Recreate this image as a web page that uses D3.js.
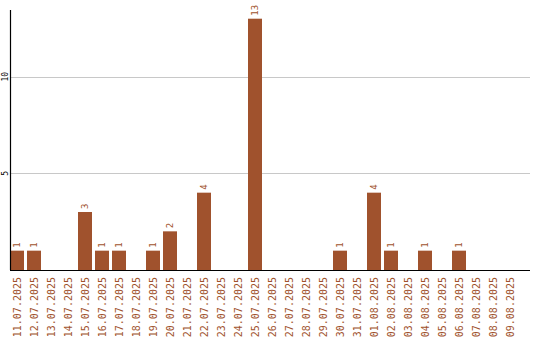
<!DOCTYPE html>
<html><head><meta charset="utf-8">
<script src="https://cdn.jsdelivr.net/npm/d3@7"></script>
<style>body{margin:0;background:#fff}svg{display:block}</style>
</head><body>
<script>
const dates = ["11.07.2025","12.07.2025","13.07.2025","14.07.2025","15.07.2025","16.07.2025","17.07.2025","18.07.2025","19.07.2025","20.07.2025","21.07.2025","22.07.2025","23.07.2025","24.07.2025","25.07.2025","26.07.2025","27.07.2025","28.07.2025","29.07.2025","30.07.2025","31.07.2025","01.08.2025","02.08.2025","03.08.2025","04.08.2025","05.08.2025","06.08.2025","07.08.2025","08.08.2025","09.08.2025"];
const values = [1,1,0,0,3,1,1,0,1,2,0,4,0,0,13,0,0,0,0,1,0,4,1,0,1,0,1,0,0,0];
const yTicks = [5,10];

const W=540,H=340;
const svg=d3.select("body").append("svg").attr("width",W).attr("height",H);
const color="#a0522d";
const x=d3.scaleBand().domain(dates).range([10,517]).paddingInner(3/17).paddingOuter(0);
const y=d3.scaleLinear().domain([0,13.45]).range([270,10]);

// gridlines
svg.append("g").selectAll("line").data(yTicks).join("line")
  .attr("x1",10).attr("x2",530).attr("y1",d=>Math.round(y(d))+0.5).attr("y2",d=>Math.round(y(d))+0.5)
  .attr("stroke","#c8c8c8").attr("stroke-width",1);

// bars
svg.append("g").selectAll("rect").data(values.map((v,i)=>({d:dates[i],v}))).join("rect")
  .attr("x",d=>x(d.d)).attr("width",x.bandwidth())
  .attr("y",d=>y(d.v)).attr("height",d=>y(0)-y(d.v))
  .attr("fill",color);

// value labels
svg.append("g").selectAll("text").data(values.map((v,i)=>({d:dates[i],v})).filter(d=>d.v>0)).join("text")
  .attr("transform",d=>`translate(${x(d.d)+x.bandwidth()/2},${y(d.v)-3}) rotate(-90)`)
  .attr("dy","0.35em").attr("text-anchor","start")
  .attr("font-family","DejaVu Sans Mono").attr("font-size",9).attr("fill",color)
  .text(d=>d.v);

// x labels
svg.append("g").selectAll("text").data(dates).join("text")
  .attr("transform",d=>`translate(${x(d)+x.bandwidth()/2},277) rotate(-90)`)
  .attr("dy","0.35em").attr("text-anchor","end")
  .attr("font-family","DejaVu Sans Mono").attr("font-size",10).attr("fill",color)
  .text(d=>d);

// y tick labels
svg.append("g").selectAll("text").data(yTicks).join("text")
  .attr("transform",d=>`translate(5,${y(d)}) rotate(-90)`)
  .attr("dy","0.35em").attr("text-anchor","middle")
  .attr("font-family","DejaVu Sans Mono").attr("font-size",8).attr("fill","#000")
  .text(d=>d);

// axes lines
svg.append("line").attr("x1",10.5).attr("x2",10.5).attr("y1",10).attr("y2",270).attr("stroke","#000").attr("stroke-width",1.2);
svg.append("line").attr("x1",10).attr("x2",530).attr("y1",270.5).attr("y2",270.5).attr("stroke","#000").attr("stroke-width",1.2);
</script>
</body></html>
